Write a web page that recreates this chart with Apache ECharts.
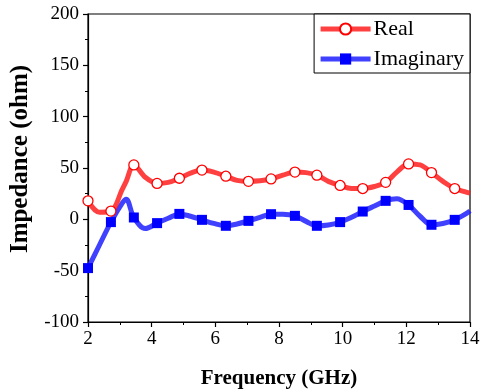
<!DOCTYPE html>
<html>
<head>
<meta charset="utf-8">
<script src="https://cdn.jsdelivr.net/npm/echarts@6/dist/echarts.min.js"></script>
<style>
  html, body { margin: 0; padding: 0; background: #fff; }
  #chart { width: 481px; height: 391px; }
</style>
</head>
<body>
<div id="chart"></div>
<script>
// Frequency samples (GHz) along the measured curves
const freq = [2, 2.36, 2.72, 3.08, 3.2, 3.44, 3.8, 4.17, 4.52, 4.87, 5.22, 5.58, 5.95, 6.33, 6.68, 7.04,
  7.4, 7.75, 8.12, 8.5, 8.85, 9.19, 9.55, 9.92, 10.28, 10.63, 11.0, 11.35, 11.7, 12.07, 12.43, 12.79,
  13.15, 13.52, 13.88, 14];
// Real part of impedance (ohm)
const realPart = [18, 7, 8, 29.5, 37, 53, 41, 35, 36, 40, 45, 48, 46, 42, 38, 37,
  37.5, 39.4, 43, 46, 45.5, 43, 37, 33, 30, 30, 32, 36, 46, 54, 53, 45.5,
  37, 30, 26.5, 25.5];
// Imaginary part of impedance (ohm)
const imagPart = [-47.5, -25, -2.7, 16, 19.5, 1.8, -9, -3.7, 1, 5.3, 3, -0.5, -4, -6.3, -4.5, -1.5,
  2, 5, 5, 3.4, -2, -6.3, -5.5, -2.7, 2, 7.6, 13, 18, 20, 14, 3, -5.3,
  -4, -0.5, 5.5, 8.3];
// Frequencies that carry a marker symbol
const markerFreq = [2, 2.72, 3.44, 4.17, 4.87, 5.58, 6.33, 7.04, 7.75, 8.5, 9.19, 9.92, 10.63,
  11.35, 12.07, 12.79, 13.52];
const xTicks = [2, 4, 6, 8, 10, 12, 14];
const yTicks = [-100, -50, 0, 50, 100, 150, 200];

function buildData(values) {
  return freq.map((f, i) => {
    const item = { value: [f, values[i]] };
    if (markerFreq.indexOf(f) < 0) item.symbol = 'none';
    return item;
  });
}

const serif = '"Liberation Serif", "Times New Roman", serif';
const chart = echarts.init(document.getElementById('chart'), null, { renderer: 'canvas' });

chart.setOption({
  animation: false,
  backgroundColor: '#fff',
  grid: {
    left: 88, right: 11, top: 14, bottom: 69,
    outerBoundsMode: 'none',
    containLabel: false,
    show: true, borderColor: '#000', borderWidth: 1.2, backgroundColor: 'transparent'
  },
  legend: {
    orient: 'vertical',
    right: 11, top: 14,
    backgroundColor: '#fff',
    borderColor: '#000', borderWidth: 1,
    borderRadius: 0,
    padding: [4, 6, 3, 4],
    itemGap: 8,
    itemWidth: 50, itemHeight: 14,
    lineStyle: { width: 5, opacity: 1 },
    textStyle: { fontFamily: serif, fontSize: 22, color: '#000', padding: [0, 0, 0, -2] },
    data: ['Real', 'Imaginary']
  },
  xAxis: {
    type: 'value',
    min: xTicks[0], max: xTicks[xTicks.length - 1], interval: 2,
    name: 'Frequency (GHz)',
    nameLocation: 'middle', nameGap: 46,
    nameTextStyle: { fontFamily: serif, fontSize: 21, fontWeight: 'bold', color: '#000' },
    axisLine: { show: true, onZero: false, lineStyle: { color: '#000', width: 1.2 } },
    axisTick: { show: true, inside: false, length: 5, lineStyle: { color: '#000', width: 1.2 } },
    minorTick: { show: true, splitNumber: 2, length: 3, lineStyle: { color: '#000', width: 1 } },
    axisLabel: { fontFamily: serif, fontSize: 19, color: '#000', margin: 8 },
    splitLine: { show: false }
  },
  yAxis: {
    type: 'value',
    min: yTicks[0], max: yTicks[yTicks.length - 1], interval: 50,
    name: 'Impedance (ohm)',
    nameLocation: 'middle', nameGap: 50,
    nameTextStyle: { fontFamily: serif, fontSize: 25, fontWeight: 'bold', color: '#000', padding: [0, 0, 0, 18] },
    axisLine: { show: true, onZero: false, lineStyle: { color: '#000', width: 1.2 } },
    axisTick: { show: true, inside: false, length: 5, lineStyle: { color: '#000', width: 1.2 } },
    minorTick: { show: true, splitNumber: 2, length: 3, lineStyle: { color: '#000', width: 1 } },
    axisLabel: { fontFamily: serif, fontSize: 19, color: '#000', margin: 9 },
    splitLine: { show: false }
  },
  series: [
    {
      name: 'Real',
      type: 'line',
      smooth: 0.35,
      symbol: 'circle',
      symbolSize: 10,
      showAllSymbol: true,
      z: 3,
      lineStyle: { color: 'rgba(255,30,30,0.85)', width: 5 },
      itemStyle: { color: '#fff', borderColor: '#ff0000', borderWidth: 1.3 },
      data: buildData(realPart)
    },
    {
      name: 'Imaginary',
      type: 'line',
      smooth: 0.35,
      symbol: 'rect',
      symbolSize: 10,
      showAllSymbol: true,
      z: 2,
      lineStyle: { color: 'rgba(30,30,255,0.85)', width: 5 },
      itemStyle: { color: '#0000ff', borderColor: '#0000ff', borderWidth: 0 },
      data: buildData(imagPart)
    }
  ]
});
</script>
</body>
</html>
